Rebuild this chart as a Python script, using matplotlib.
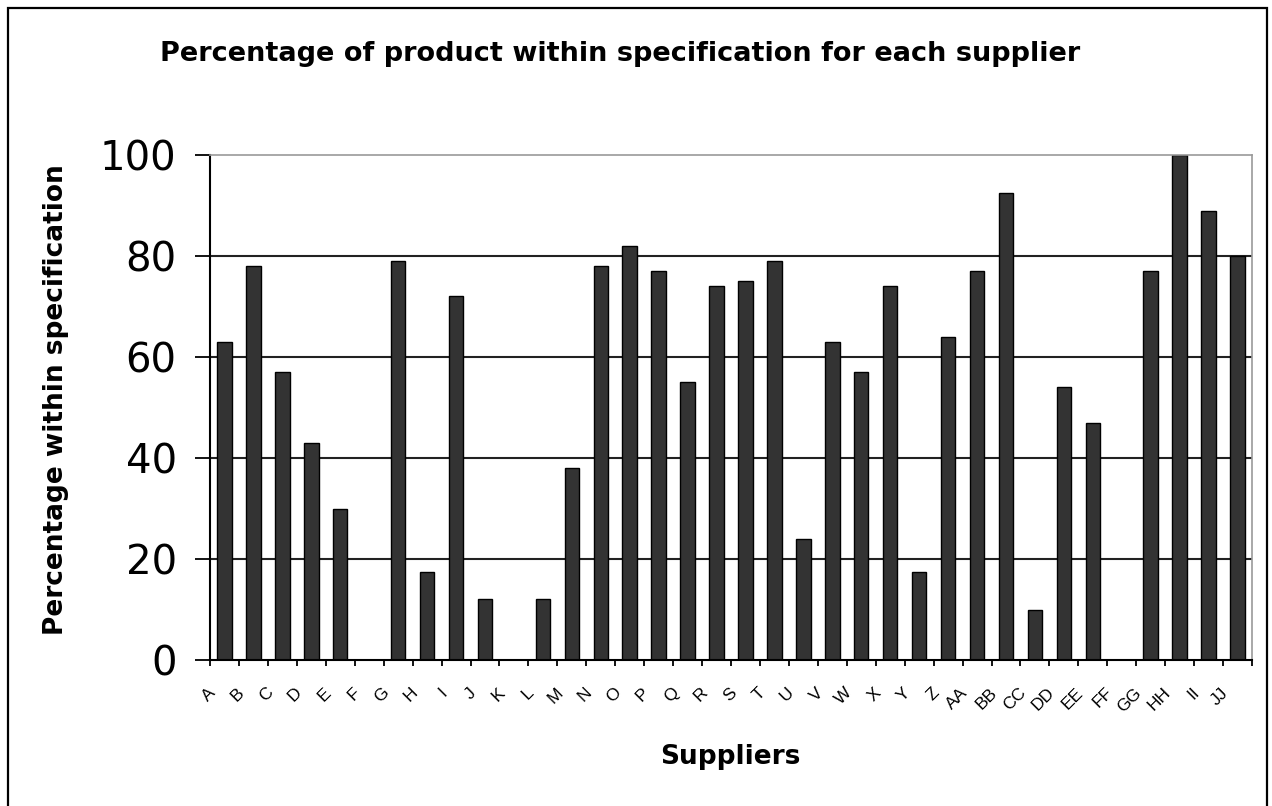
import numpy as np
import matplotlib.pyplot as plt
from matplotlib.patches import Rectangle
import matplotlib.transforms as mtransforms

# dados
fornecedores = ['A', 'B', 'C', 'D', 'E', 'F', 'G', 'H', 'I', 'J', 'K', 'L', 'M',
                'N', 'O', 'P', 'Q', 'R', 'S', 'T', 'U', 'V', 'W', 'X', 'Y', 'Z',
                'AA', 'BB', 'CC', 'DD', 'EE', 'FF', 'GG', 'HH', 'II', 'JJ']
percentagem = [63, 78, 57, 43, 30, 0, 79, 17.5, 72, 12, 0, 12, 38,
               78, 82, 77, 55, 74, 75, 79, 24, 63, 57, 74, 17.5, 64,
               77, 92.5, 10, 54, 47, 0, 77, 100, 89, 80]
yticks = [0, 20, 40, 60, 80, 100]

titulo = 'Percentage of product within specification for each supplier'
rotulo_x = 'Suppliers'
rotulo_y = 'Percentage within specification'

plt.rcParams['font.family'] = ['DejaVu Sans']

W, H = 1272, 806
fig = plt.figure(figsize=(W / 100, H / 100), dpi=100)

# moldura da figura
fig.patches.append(Rectangle((8 / W, -0.02), (1267 - 8) / W, 1.02 - 8 / H,
                             transform=fig.transFigure, fill=False,
                             edgecolor='black', linewidth=1.6))

ax = fig.add_axes([210 / W, 1 - 660 / H, (1252 - 210) / W, (660 - 155) / H])

n = len(fornecedores)
centros = np.arange(n) + 0.5
ax.bar(centros, percentagem, width=0.5, color='#333333',
       edgecolor='black', linewidth=1.0, zorder=2)

ax.set_xlim(0, n)
ax.set_ylim(0, 100)

# linhas de grade
for v in yticks[1:-1]:
    ax.axhline(v, color='#222222', linewidth=1.5, zorder=1)

for lado in ['top', 'right']:
    ax.spines[lado].set_color('#999999')
    ax.spines[lado].set_linewidth(1.2)
for lado in ['left', 'bottom']:
    ax.spines[lado].set_color('black')
    ax.spines[lado].set_linewidth(1.5)

# eixo y
ax.set_yticks(yticks)
ax.set_yticklabels([str(v) for v in yticks], fontsize=29)
ax.tick_params(axis='y', length=11, width=1.3, pad=13)

# eixo x: marcas nas fronteiras, rotulos nos centros
ax.set_xticks(np.arange(n + 1))
ax.set_xticklabels([])
ax.tick_params(axis='x', which='major', length=4, width=1.3)
ax.set_xticks(centros, minor=True)
ax.set_xticklabels(fornecedores, minor=True, rotation=45, ha='right',
                   va='top', rotation_mode='anchor', fontsize=12.5,
                   family='Liberation Sans')
ax.tick_params(axis='x', which='minor', length=0, pad=18)
desloc = mtransforms.ScaledTranslation(-17 / 100, 0, fig.dpi_scale_trans)
for lab in ax.xaxis.get_minorticklabels():
    lab.set_transform(lab.get_transform() + desloc)

# titulos
fig.text(620 / W, 1 - 54 / H, titulo, ha='center', va='center',
         fontsize=19.5, fontweight='bold')
fig.text(730 / W, 1 - 757 / H, rotulo_x, ha='center', va='center',
         fontsize=19, fontweight='bold')
fig.text(56 / W, 1 - 400 / H, rotulo_y, ha='center', va='center',
         rotation=90, fontsize=19, fontweight='bold')

plt.savefig('out.png', dpi=100)
